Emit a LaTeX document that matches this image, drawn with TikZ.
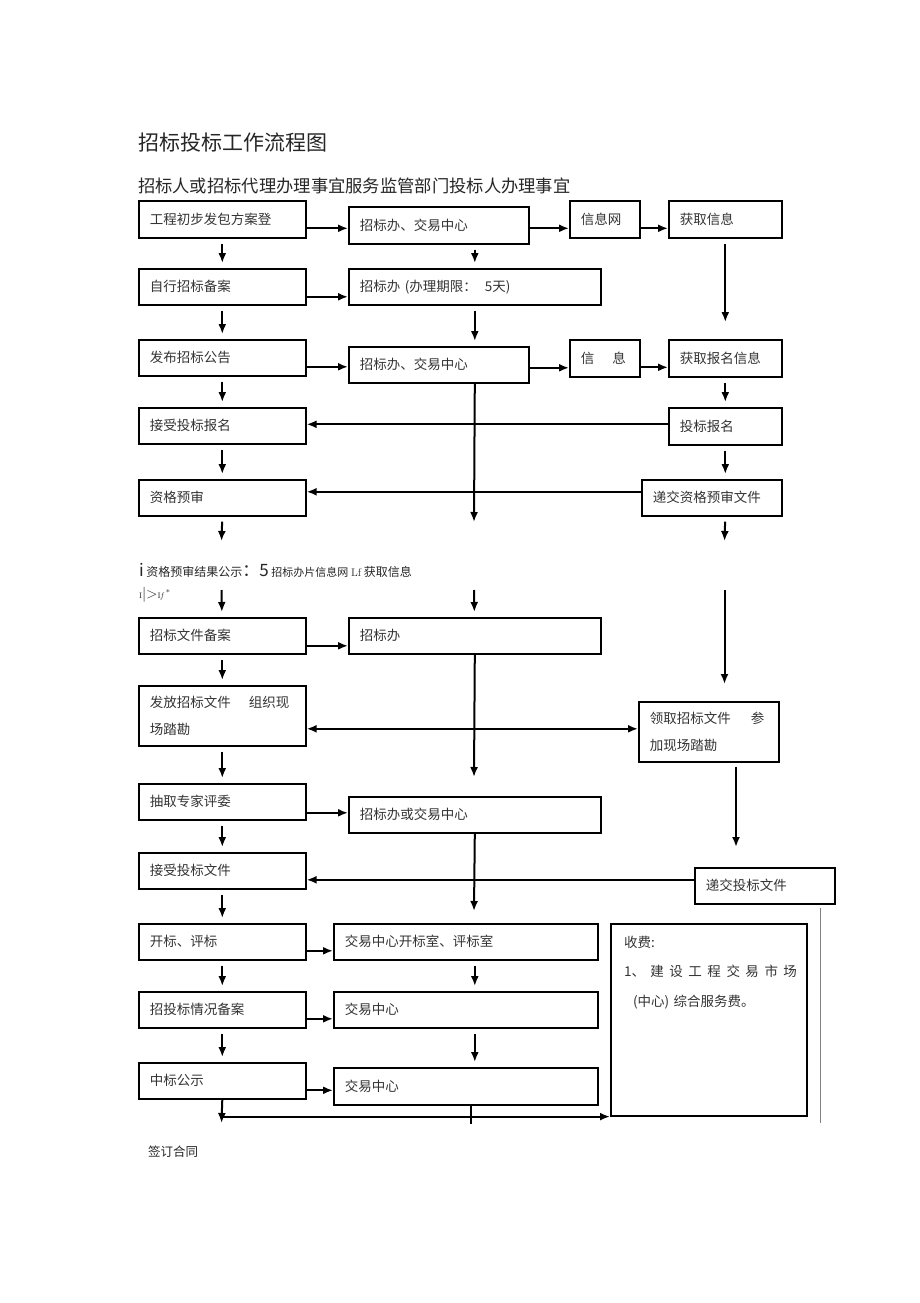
\documentclass[tikz,border=0pt]{standalone}
\usepackage{fontspec}
\usepackage{tikz}
\usetikzlibrary{arrows.meta, positioning}
\newfontfamily\cjk{Noto Sans CJK SC}

\begin{document}
\begin{tikzpicture}[x=1pt, y=-1pt, line width=2pt, >={Latex[length=10pt, width=8pt]},
  box/.style={draw, line width=1.6pt, anchor=north west, align=left, inner xsep=11pt, inner ysep=0pt, minimum height=36pt, text=black!80, font=\cjk\fontsize{13.5}{27}\selectfont},
  abox/.style={box, text width=145pt},
  txt/.style={anchor=west, inner sep=0pt, text=black!85},
  down/.style={->, shorten <=5pt, shorten >=5pt}]
\useasboundingbox[fill=white] (0,0) rectangle (920,1303);

\node[txt, font=\cjk\fontsize{21}{24}\selectfont] (title) at (137,143) {招标投标工作流程图};
\node[txt, font=\cjk\fontsize{17.3}{20}\selectfont] (heads) at (137,186) {招标人或招标代理办理事宜服务监管部门投标人办理事宜};

\node[abox, minimum height=37pt] (a1) at (138,200) {工程初步发包方案登};
\node[abox] (a2) at (138,268) {自行招标备案};
\node[abox] (a3) at (138,339) {发布招标公告};
\node[abox] (a4) at (138,407) {接受投标报名};
\node[abox] (a5) at (138,479) {资格预审};
\node[abox] (a6) at (138,617) {招标文件备案};
\node[abox, minimum height=60pt] (a7) at (138,685) {发放招标文件\hspace{18pt}组织现\\场踏勘};
\node[abox] (a8) at (138,783) {抽取专家评委};
\node[abox] (a9) at (138,852) {接受投标文件};
\node[abox] (a10) at (138,923) {开标、评标};
\node[abox] (a11) at (138,991) {招投标情况备案};
\node[abox] (a12) at (138,1062) {中标公示};

\node[box, text width=158pt, minimum height=37pt] (b1) at (348,206) {招标办、交易中心};
\node[box, text width=230pt] (b2) at (348,268) {招标办 (办理期限：\hspace{8pt}5天)};
\node[box, text width=158pt] (b3) at (348,346) {招标办、交易中心};
\node[box, text width=230pt] (b6) at (348,617) {招标办};
\node[box, text width=230pt] (b8) at (348,796) {招标办或交易中心};
\node[box, text width=242pt] (b10) at (333,923) {交易中心开标室、评标室};
\node[box, text width=242pt] (b11) at (333,991) {交易中心};
\node[box, text width=242pt, minimum height=37pt] (b12) at (333,1067) {交易中心};

\node[box, text width=48pt, minimum height=37pt] (c1) at (569,200) {信息网};
\node[box, text width=48pt, minimum height=37pt] (c3) at (569,339) {信\hspace{18pt}息};

\node[box, text width=91pt, minimum height=37pt] (d1) at (668,200) {获取信息};
\node[box, text width=91pt, minimum height=37pt] (d3) at (668,339) {获取报名信息};
\node[box, text width=91pt, minimum height=37pt] (d4) at (668,407) {投标报名};
\node[box, text width=118pt] (d5) at (641,479) {递交资格预审文件};
\node[box, text width=118pt, minimum height=60pt] (d7) at (638,701) {领取招标文件\hspace{20pt}参\\加现场踏勘};
\node[box, text width=118pt] (d9) at (694,867) {递交投标文件};

\node[draw, line width=1.6pt, anchor=north west, minimum width=196pt, minimum height=192pt, inner sep=0pt] (fee) at (610,923) {};
\node[anchor=north west, inner sep=0pt, align=left, text width=173pt, text=black!80, font=\cjk\fontsize{13.5}{29.5}\selectfont] (feetext) at (623,935) {收费:\\\makebox[173pt][s]{1、\hfill 建\hfill 设\hfill 工\hfill 程\hfill 交\hfill 易\hfill 市\hfill 场}\\\hspace{9pt}(中心) 综合服务费。};

\node[txt, font=\cjk\fontsize{12}{14}\selectfont] (pub) at (138,570) {{\fontsize{17}{17}\selectfont i} 资格预审结果公示{\fontsize{17}{17}\selectfont ：5} {\fontsize{11}{13}\selectfont 招标办片信息网} {\normalfont\fontsize{11}{13}\selectfont Lf} 获取信息};
\node[txt] (sym) at (138,595) {{\normalfont\fontsize{8}{8}\selectfont I}{\normalfont\fontsize{15}{15}\selectfont |>}{\normalfont\fontsize{8}{8}\selectfont I\textit{f}\,\raisebox{3pt}{*}}};
\node[txt, font=\cjk\fontsize{12.5}{14}\selectfont] (sign) at (147,1152) {签订合同};

\coordinate (agap1) at (221.5,541);
\coordinate (agap2) at (221.5,590);
\coordinate (bgap1) at (474,522);
\coordinate (bgap2) at (474,590);
\coordinate (bgap3) at (474,777);
\coordinate (bgap4) at (474,911);
\coordinate (bend) at (471,1124);
\coordinate (dgap1) at (724.5,541);
\coordinate (dgap2) at (724.5,590);
\coordinate (dgap3) at (724.5,684);
\coordinate (dgap4) at (736,847);
\coordinate (aend) at (221.5,1123);
\coordinate (vtop) at (820,908);
\coordinate (vbot) at (820,1123);

\draw[->] ([yshift=-9pt]a1.east) -- ([yshift=-9pt]a1.east -| b1.west);
\draw[->] ([yshift=-3pt]b1.east) -- ([yshift=-3pt]b1.east -| c1.west);
\draw[->] ([yshift=-9pt]c1.east) -- ([yshift=-9pt]c1.east -| d1.west);
\draw[down] (a1) -- (a2);
\draw[down] (b1.south -| b2.north) -- (b2.north);
\draw[down, shorten >=17pt] (d1) -- (d3);
\draw[->] ([yshift=-10pt]a2.east) -- ([yshift=-10pt]a2.east -| b2.west);
\draw[down] (a2) -- (a3);
\draw[down] (b2.south) -- (b3.north -| b2.south);
\draw[->] ([yshift=-9pt]a3.east) -- ([yshift=-9pt]a3.east -| b3.west);
\draw[->] ([yshift=-3pt]b3.east) -- ([yshift=-3pt]b3.east -| c3.west);
\draw[->] ([yshift=-9pt]c3.east) -- ([yshift=-9pt]c3.east -| d3.west);
\draw[down] (a3) -- (a4);
\draw[down] (d3) -- (d4);
\draw[->] (b3.south -| b2.south) -- (bgap1);
\draw[->] ([yshift=2pt]d4.west) -- ([yshift=2pt]d4.west -| a4.east);
\draw[down] (a4) -- (a5);
\draw[down] (d4.south) -- (d4.south |- d5.north);
\draw[->] ([yshift=6pt]d5.west) -- ([yshift=6pt]d5.west -| a5.east);
\draw[->, shorten <=5pt] (a5.south) -- (agap1);
\draw[->, shorten <=5pt] (d5.south -| d4.south) -- (dgap1);
\draw[->, shorten >=5pt] (agap2) -- (a6);
\draw[->, shorten >=5pt] (bgap2) -- (b6);
\draw[->] (dgap2) -- (dgap3);
\draw[->] ([yshift=-10pt]a6.east) -- ([yshift=-10pt]a6.east -| b6.west);
\draw[down] (a6) -- (a7);
\draw[->] (b6.south) -- (bgap3);
\draw[<->] ([yshift=-13pt]a7.east) -- ([yshift=-13pt]a7.east -| d7.west);
\draw[->, shorten <=4pt] (d7.south -| dgap4) -- (dgap4);
\draw[down] (a7) -- (a8);
\draw[->] ([yshift=-11pt]a8.east) -- ([yshift=-11pt]a8.east -| b8.west);
\draw[down] (a8) -- (a9);
\draw[->] (b8.south) -- (bgap4);
\draw[->] ([yshift=6pt]d9.west) -- ([yshift=6pt]d9.west -| a9.east);
\draw[down] (a9) -- (a10);
\draw[->] ([yshift=-9pt]a10.east) -- ([yshift=-9pt]a10.east -| b10.west);
\draw[down] (b10.south -| b8.south) -- (b11.north -| b8.south);
\draw[down] (a10) -- (a11);
\draw[->] ([yshift=-9pt]a11.east) -- ([yshift=-9pt]a11.east -| b11.west);
\draw[down] (a11) -- (a12);
\draw[down] (b11.south -| b8.south) -- (b12.north -| b8.south);
\draw[->] ([yshift=-9.5pt]a12.east) -- ([yshift=-9.5pt]a12.east -| b12.west);
\draw[->] (a12.south) -- (aend);
\draw[->] (aend |- fee.south west) -- (fee.south west);
\draw (b12.south -| bend) -- (bend);
\draw[line width=0.8pt, black!50] (vtop) -- (vbot);
\end{tikzpicture}
\end{document}
